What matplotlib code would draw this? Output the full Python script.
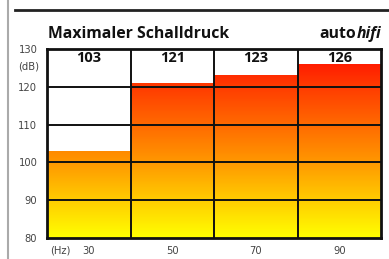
import matplotlib
matplotlib.use("Agg")
import matplotlib.pyplot as plt
import numpy as np
from matplotlib.colors import LinearSegmentedColormap
from matplotlib.lines import Line2D

# data
freqs = ["30", "50", "70", "90"]
spl = [103, 121, 123, 126]
yticks = [80, 90, 100, 110, 120, 130]

YMIN, YMAX = 80, 130

cmap = LinearSegmentedColormap.from_list(
    "heat", [(0.0, "#ffff00"), (0.2, "#ffcc00"), (0.4, "#ff9800"),
             (0.6, "#ff6a00"), (0.8, "#ff3c00"), (1.0, "#ff0a00")])

plt.rcParams['font.family'] = ['Open Sans', 'DejaVu Sans']

fig = plt.figure(figsize=(3.89, 2.59), dpi=100)
ax = fig.add_axes([47 / 389, 1 - 238 / 259, 334 / 389, 189 / 259])

for i, v in enumerate(spl):
    grad = np.linspace(YMIN, v, 200).reshape(-1, 1)
    ax.imshow(grad, cmap=cmap, vmin=YMIN, vmax=YMAX, origin="lower",
              extent=(i - 0.5, i + 0.5, YMIN, v), aspect="auto", zorder=1)
    ax.text(i, 129.6, str(v), ha="center", va="top", fontsize=10.5,
            fontweight="bold", color="#111111", zorder=4)

ax.set_xlim(-0.5, len(spl) - 0.5)
ax.set_ylim(YMIN, YMAX)

for y in yticks[1:-1]:
    ax.axhline(y, color="#111111", lw=1.4, zorder=3)
for i in range(1, len(spl)):
    ax.axvline(i - 0.5, color="#111111", lw=1.4, zorder=3)

for s in ax.spines.values():
    s.set_linewidth(2)
    s.set_color("#111111")
    s.set_zorder(5)

tick_font = dict(fontsize=8, color="#444444", fontstretch="condensed",
                 family=["DejaVu Sans"])
ax.set_yticks(yticks)
ax.set_yticklabels([str(t) for t in yticks], **tick_font)
ax.set_xticks(range(len(freqs)))
ax.set_xticklabels(freqs, **tick_font)
ax.tick_params(length=0, pad=6)
ax.tick_params(axis="y", pad=7)
for lab in ax.get_xticklabels():
    lab.set_x(lab.get_position()[0])

ax.text(-0.46, -0.065, "(Hz)", transform=ax.get_xaxis_transform(),
        ha="left", va="center", **tick_font)
fig.text(39 / 389, 1 - 67 / 259, "(dB)", ha="right", va="center", **tick_font)

# frame decorations
fig.add_artist(Line2D([8 / 389, 8 / 389], [0, 1], color="#aaaaaa", lw=1.5))
fig.add_artist(Line2D([15 / 389, 1], [1 - 10 / 259, 1 - 10 / 259],
                      color="#222222", lw=2))

fig.text(48 / 389, 1 - 38 / 259, "Maximaler Schalldruck", ha="left",
         va="baseline", fontsize=11.3, fontweight="bold", color="#111111")
hifi = fig.text(381 / 389, 1 - 38 / 259, "hifi", ha="right", va="baseline",
                fontsize=11.3, fontweight="bold", style="italic", color="#111111")
r = fig.canvas.get_renderer()
bb = hifi.get_window_extent(r)
fig.text(bb.x0 / fig.bbox.width, 1 - 38 / 259, "auto", ha="right",
         va="baseline", fontsize=11.3, fontweight="bold", color="#111111")

fig.savefig("out.png", dpi=100)
